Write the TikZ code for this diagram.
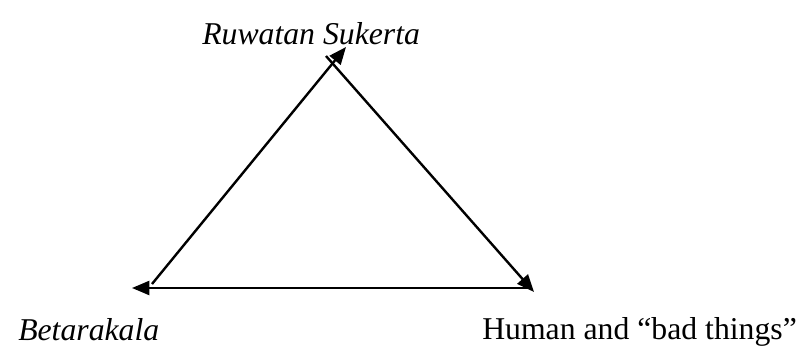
\documentclass[tikz,border=0pt]{standalone}
\usepackage{fontspec}
\setmainfont{Liberation Serif}
\usetikzlibrary{arrows.meta}

\begin{document}
\begin{tikzpicture}[
  x=0.75pt, y=-0.75pt,
  lbl/.style={inner sep=0pt, anchor=base west, font=\fontsize{23.8}{28}\selectfont},
  arr/.style={-{Triangle[length=13pt, width=10.5pt]}, line width=1.8pt}
]
\useasboundingbox (0,0) rectangle (801,360);
\node[lbl] (ruwatan) at (202,45) {\itshape Ruwatan Sukerta};
\node[lbl] (betara) at (18,340) {\itshape Betarakala};
\node[lbl] (human) at (482,339) {Human and ``bad things''};

\coordinate (apex) at (346,47);
\coordinate (apexs) at (326,56);
\coordinate (left) at (132,288);
\coordinate (lefts) at (152,284);
\coordinate (right) at (534,292);
\coordinate (rights) at (532,288);

\draw[arr] (lefts) -- (apex);
\draw[arr] (apexs) -- (right);
\draw[arr] (rights) -- (left);
\end{tikzpicture}
\end{document}
